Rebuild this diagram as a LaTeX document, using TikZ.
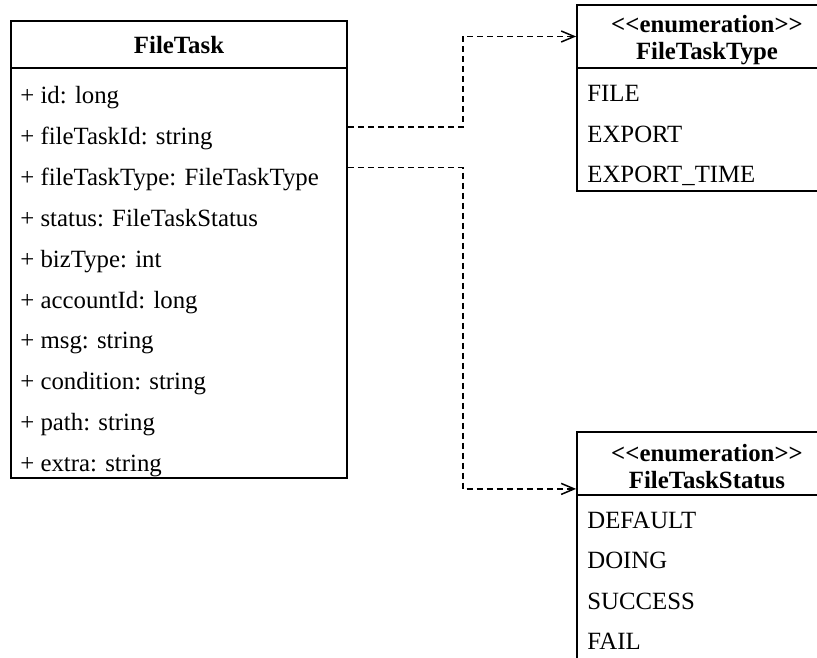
\documentclass[tikz,border=0pt]{standalone}
\usepackage{fontspec}
\setmainfont{Liberation Serif}
\usetikzlibrary{arrows.meta,positioning}
\newcommand{\umlfont}{\fontsize{12.4}{13.5}\selectfont}
\newcommand{\enumtag}{\rule{0pt}{12pt}<\kern0pt<enumeration>\kern0pt>}
\tikzstyle{head} = [draw, rectangle, line width=0.9pt, align=center, font=\umlfont\bfseries, inner sep=0pt]
\tikzstyle{body} = [draw, rectangle, line width=0.9pt, inner sep=0pt]
\tikzstyle{attr} = [anchor=base west, inner sep=0pt, font=\umlfont]
\tikzstyle{dep} = [dash pattern=on 3pt off 2pt, line width=0.75pt, -{Straight Barb[length=6.5pt,width=5.5pt]}]

\begin{document}
\begin{tikzpicture}[x=0.5pt, y=-0.5pt]
\useasboundingbox (0,0) rectangle (817,657);
\clip (0,0) rectangle (817,657);

% class FileTask
\node [head, minimum width=168pt, minimum height=23.5pt] (task) at (179,44.5) {\rule{0pt}{9.5pt}FileTask};
\node [body, minimum width=168pt, minimum height=205pt] (taskbody) at (179,273) {};
\node [attr] (tid) at (20,104) {+ id: long};
\node [attr] (tfid) at (20,144.8) {+ fileTaskId: string};
\node [attr] (ttype) at (20,185.6) {+ fileTaskType: FileTaskType};
\node [attr] (tstatus) at (20,226.4) {+ status: FileTaskStatus};
\node [attr] (tbiz) at (20,267.2) {+ bizType: int};
\node [attr] (tacc) at (20,308) {+ accountId: long};
\node [attr] (tmsg) at (20,348.8) {+ msg: string};
\node [attr] (tcond) at (20,389.6) {+ condition: string};
\node [attr] (tpath) at (20,430.4) {+ path: string};
\node [attr] (textra) at (20,471.2) {+ extra: string};

% enum FileTaskType
\node [head, minimum width=130pt, minimum height=31.5pt] (typehead) at (707,36.5) {\enumtag\\FileTaskType};
\node [body, minimum width=130pt, minimum height=61.5pt] (typebody) at (707,129.5) {};
\node [attr] (tyfile) at (587,102) {FILE};
\node [attr] (tyexport) at (587,142.5) {EXPORT};
\node [attr] (tyexptime) at (587,183) {EXPORT\_TIME};

% enum FileTaskStatus
\node [head, minimum width=130pt, minimum height=31.5pt] (statushead) at (707,463.5) {\enumtag\\FileTaskStatus};
\node [body, minimum width=130pt, minimum height=102.5pt] (statusbody) at (707,597.5) {};
\node [attr] (stdefault) at (587,528) {DEFAULT};
\node [attr] (stdoing) at (587,568.5) {DOING};
\node [attr] (stsuccess) at (587,609) {SUCCESS};
\node [attr] (stfail) at (587,649.5) {FAIL};

\draw [dep] (taskbody.east |- tfid.north) -- ++(115,0) |- (typehead.west);
\draw [dep] (taskbody.east |- ttype.north) -- ++(115,0) |- ([yshift=3.5pt]statushead.south west);
\end{tikzpicture}
\end{document}
